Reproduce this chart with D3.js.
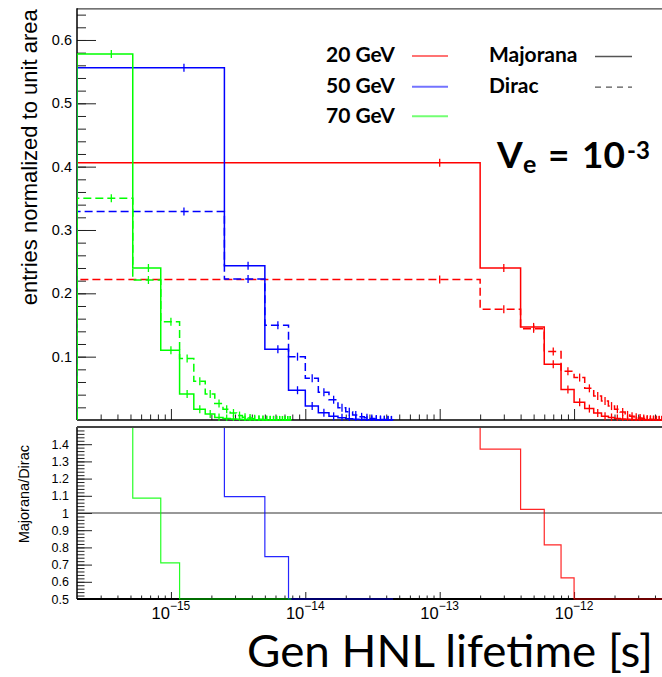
<!DOCTYPE html>
<html><head><meta charset="utf-8">
<script src="https://cdn.jsdelivr.net/npm/d3@7/dist/d3.min.js"></script>
<style>html,body{margin:0;padding:0;background:#fff;} svg{display:block;}</style>
</head><body><svg id="c" width="662" height="677"></svg>
<script>
// ---------------- data ----------------
const massLabels = ["20 GeV", "50 GeV", "70 GeV"];
const massColors = ["#ff0000", "#0000ff", "#00ff00"];
const typeLabels = ["Majorana", "Dirac"];
// histogram binning per mass (lifetime in s)
const binStart = [0, 0, 2e-16];
const binWidth = [2e-13, 2.5e-15, 3.2e-16];

const red20Majorana = [0.406, 0.240, 0.147, 0.088, 0.048, 0.028, 0.018, 0.011, 0.006, 0.004, 0.0025, 0.0016, 0.001, 0.0007, 0.0005, 0.0003, 0.0002, 0.00015, 0.0001, 0.00007, 0.00005, 0.00003, 0.00002, 0.00001, 0.00001];
const red20Dirac    = [0.222, 0.175, 0.144, 0.108, 0.077, 0.067, 0.050, 0.038, 0.030, 0.022, 0.017, 0.0126, 0.008, 0.006, 0.0045, 0.0032, 0.0024, 0.0017, 0.0012, 0.0009, 0.0006, 0.0004, 0.0003, 0.0002, 0.0001];
const blue50Majorana = [0.556, 0.2437, 0.1116, 0.047, 0.022, 0.0116, 0.0058, 0.0035, 0.002, 0.0012, 0.0008, 0.0005, 0.0003, 0.0002, 0.00015, 0.0001, 0.00005, 0.00003];
const blue50Dirac    = [0.329, 0.2226, 0.1495, 0.100, 0.0658, 0.044, 0.032, 0.0195, 0.013, 0.008, 0.005, 0.0035, 0.0022, 0.0014, 0.0009, 0.0006, 0.0004, 0.0002];
const green70Majorana = [0.578, 0.240, 0.110, 0.041, 0.017, 0.0095, 0.004, 0.0025, 0.0015, 0.001, 0.0007, 0.0005, 0.0003, 0.0002, 0.0002, 0.0001, 0.0001, 0.0001, 0.00005, 0.00005, 0.00003, 0.00002, 0.00001, 0.00001];
const green70Dirac    = [0.350, 0.221, 0.155, 0.097, 0.061, 0.041, 0.026, 0.017, 0.011, 0.007, 0.0045, 0.003, 0.002, 0.0013, 0.0009, 0.0006, 0.0004, 0.0003, 0.0002, 0.00015, 0.0001, 0.00007, 0.00005, 0.00003];

const majoranaSeries = [red20Majorana, blue50Majorana, green70Majorana];
const diracSeries = [red20Dirac, blue50Dirac, green70Dirac];

const xDomain = [2e-16, 5e-12];
const xDecadeExps = [-15, -14, -13, -12];
const yTopDomain = [0, 0.65];
const yTopMajorTicks = [0.1, 0.2, 0.3, 0.4, 0.5, 0.6];
const yRatioDomain = [0.5, 1.5];
const yRatioMajorTicks = [0.5, 0.6, 0.7, 0.8, 0.9, 1.0, 1.1, 1.2, 1.3, 1.4];
const ratioLabelText = ["0.5","0.6","0.7","0.8","0.9","1","1.1","1.2","1.3","1.4"];

// ---------------- layout ----------------
const L = 77, R = 668;
const topT = 8.3, topB = 420;
const botT = 427, botB = 599;
const svg = d3.select("#c");
const FONT = "'Liberation Sans', Arial, Helvetica, sans-serif";
const CAL = "Lato, 'Open Sans', sans-serif";

const x = d3.scaleLog().domain(xDomain).range([L, R]);
const yTop = d3.scaleLinear().domain(yTopDomain).range([topB, topT]);
const yBot = d3.scaleLinear().domain(yRatioDomain).range([botB, botT]);

const defs = svg.append("defs");
defs.append("clipPath").attr("id", "clipTop").append("rect").attr("x", L).attr("y", topT).attr("width", R - L).attr("height", topB - topT + 1);
defs.append("clipPath").attr("id", "clipBot").append("rect").attr("x", L).attr("y", botT - 1).attr("width", R - L).attr("height", botB - botT + 2);

// minor tick values on the log axis
const minorX = [];
for (let e = -16; e <= -12; e++) for (let m = 2; m <= 9; m++) {
  const v = m * Math.pow(10, e);
  if (v > xDomain[0] && v < xDomain[1]) minorX.push(v);
}
const majorX = xDecadeExps.map(e => Math.pow(10, e));

function styleAxis(g) {
  g.select(".domain").remove();
  g.selectAll(".tick line").attr("stroke", "#222").attr("stroke-width", 1);
  g.selectAll(".tick text").attr("font-family", FONT).attr("fill", "#000");
}

// ---------------- top panel axes ----------------
const yTopMinor = d3.range(1, 33).map(i => +(i * 0.02).toFixed(2)).filter(v => v < 0.65);
svg.append("g").attr("transform", `translate(${L},0)`)
  .call(d3.axisLeft(yTop).tickValues(yTopMinor).tickSize(-9).tickFormat(""))
  .call(styleAxis);
svg.append("g").attr("transform", `translate(${L},0)`)
  .call(d3.axisLeft(yTop).tickValues(yTopMajorTicks).tickSize(-19).tickPadding(5).tickFormat(d3.format(".1f")))
  .call(styleAxis)
  .call(g => g.selectAll(".tick text").attr("font-size", 14.5));

svg.append("g").attr("transform", `translate(0,${topB})`)
  .call(d3.axisBottom(x).tickValues(minorX).tickSize(-5.5).tickFormat(""))
  .call(styleAxis);
svg.append("g").attr("transform", `translate(0,${topB})`)
  .call(d3.axisBottom(x).tickValues(majorX).tickSize(-11).tickFormat(""))
  .call(styleAxis);

// ---------------- bottom panel axes ----------------
const yBotMinor = d3.range(0, 51).map(i => +(0.5 + i * 0.02).toFixed(2)).filter(v => v < 1.5);
svg.append("g").attr("transform", `translate(${L},0)`)
  .call(d3.axisLeft(yBot).tickValues(yBotMinor).tickSize(-7.5).tickFormat(""))
  .call(styleAxis);
svg.append("g").attr("transform", `translate(${L},0)`)
  .call(d3.axisLeft(yBot).tickValues(yRatioMajorTicks).tickSize(-15).tickPadding(8)
        .tickFormat((d, i) => ratioLabelText[i]))
  .call(styleAxis)
  .call(g => g.selectAll(".tick text").attr("font-size", 12.5));

svg.append("g").attr("transform", `translate(0,${botB})`)
  .call(d3.axisBottom(x).tickValues(minorX).tickSize(-3.5).tickFormat(""))
  .call(styleAxis);
svg.append("g").attr("transform", `translate(0,${botB})`)
  .call(d3.axisBottom(x).tickValues(majorX).tickSize(-7).tickFormat(""))
  .call(styleAxis);

// x tick labels 10^n
xDecadeExps.forEach(e => {
  const t = svg.append("text").attr("x", x(Math.pow(10, e))).attr("y", 618.5)
    .attr("text-anchor", "middle").attr("font-family", FONT).attr("font-size", 16.5).attr("fill", "#000");
  t.append("tspan").text("10");
  t.append("tspan").attr("dy", -8.5).attr("font-size", 12).text("\u2212" + Math.abs(e));
});

// frames drawn beneath the histograms
svg.append("line").attr("x1", L).attr("x2", R).attr("y1", topT + 0.5).attr("y2", topT + 0.5).attr("stroke", "#444").attr("stroke-width", 1.2);
svg.append("line").attr("x1", L).attr("x2", R).attr("y1", topB).attr("y2", topB).attr("stroke", "#000").attr("stroke-width", 1.5);
svg.append("line").attr("x1", L).attr("x2", L).attr("y1", topT).attr("y2", topB).attr("stroke", "#000").attr("stroke-width", 1.5);
svg.append("line").attr("x1", L).attr("x2", R).attr("y1", botB).attr("y2", botB).attr("stroke", "#000").attr("stroke-width", 1.8);
svg.append("line").attr("x1", L).attr("x2", L).attr("y1", botT).attr("y2", botB).attr("stroke", "#000").attr("stroke-width", 1.5);
// ratio = 1 reference line
svg.append("line").attr("x1", L).attr("x2", R).attr("y1", yBot(1)).attr("y2", yBot(1)).attr("stroke", "#333").attr("stroke-width", 1.2);

// ---------------- histograms ----------------
const clampX = v => Math.max(v, xDomain[0]);
const line = d3.line();

function stepPoints(start, w, vals, yS, clampY, fromBaseline) {
  const pts = [];
  const x0 = x(clampX(start));
  if (fromBaseline) pts.push([x0, yS(0)]);
  vals.forEach((v, i) => {
    const lo = start + i * w, hi = lo + w;
    const vv = clampY ? Math.max(yS.domain()[0], Math.min(yS.domain()[1], v)) : v;
    pts.push([x(clampX(lo)), yS(vv)]);
    pts.push([x(clampX(hi)), yS(vv)]);
  });
  if (fromBaseline) pts.push([x(clampX(start + vals.length * w)), yS(0)]);
  return pts;
}

const gTop = svg.append("g").attr("clip-path", "url(#clipTop)");
massLabels.forEach((m, k) => {
  [diracSeries[k], majoranaSeries[k]].forEach((vals, j) => {
    const dashed = j === 0;
    gTop.append("path")
      .attr("d", line(stepPoints(binStart[k], binWidth[k], vals, yTop, false, true)))
      .attr("fill", "none").attr("stroke", massColors[k]).attr("stroke-width", 1.5)
      .attr("stroke-dasharray", dashed ? "8,4" : null);
    // error bar markers at bin centres
    vals.forEach((v, i) => {
      const c = binStart[k] + (i + 0.5) * binWidth[k];
      if (c < xDomain[0] || c > xDomain[1]) return;
      gTop.append("line").attr("x1", x(c)).attr("x2", x(c))
        .attr("y1", yTop(v) - 4).attr("y2", yTop(v) + 4)
        .attr("stroke", massColors[k]).attr("stroke-width", 1.3);
    });
  });
});

// ratio panel
const gBot = svg.append("g").attr("clip-path", "url(#clipBot)");
massLabels.forEach((m, k) => {
  const ratio = majoranaSeries[k].map((v, i) => diracSeries[k][i] > 0 ? v / diracSeries[k][i] : 0);
  gBot.append("path")
    .attr("d", line(stepPoints(binStart[k], binWidth[k], ratio, yBot, true, false)))
    .attr("fill", "none").attr("stroke", massColors[k]).attr("stroke-width", 1.2).attr("stroke-opacity", 0.85);
});
// ratio panel top frame drawn over the clamped lines
svg.append("line").attr("x1", L).attr("x2", R).attr("y1", botT).attr("y2", botT).attr("stroke", "#444").attr("stroke-width", 2);

// ---------------- titles ----------------
svg.append("text").attr("transform", `translate(37,${topT + 1}) rotate(-90)`)
  .attr("text-anchor", "end").attr("font-family", FONT).attr("font-size", 22).attr("fill", "#000")
  .text("entries normalized to unit area");
svg.append("text").attr("transform", `translate(29,445) rotate(-90)`)
  .attr("text-anchor", "end").attr("font-family", FONT).attr("font-size", 14.5).attr("fill", "#000")
  .text("Majorana/Dirac");
svg.append("text").attr("x", 247).attr("y", 667).attr("font-family", CAL).attr("font-size", 44)
  .attr("textLength", 406).attr("lengthAdjust", "spacingAndGlyphs").attr("fill", "#000")
  .text("Gen HNL lifetime [s]");

// ---------------- legend ----------------
const legY = [56, 86.7, 116.3];
massLabels.forEach((m, k) => {
  svg.append("text").attr("x", 326).attr("y", legY[k] + 6.3).attr("font-family", CAL)
    .attr("font-weight", "bold").attr("font-size", 21).attr("fill", "#000").text(m);
  svg.append("line").attr("x1", 412).attr("x2", 448).attr("y1", legY[k]).attr("y2", legY[k])
    .attr("stroke", massColors[k]).attr("stroke-width", 2).attr("stroke-opacity", 0.55);
});
typeLabels.forEach((t, j) => {
  svg.append("text").attr("x", 489).attr("y", legY[j] + 6.3).attr("font-family", CAL)
    .attr("font-weight", "bold").attr("font-size", 21).attr("fill", "#000").text(t);
  svg.append("line").attr("x1", 595).attr("x2", 632).attr("y1", legY[j] + 0.5).attr("y2", legY[j] + 0.5)
    .attr("stroke", "#555").attr("stroke-width", 1.3)
    .attr("stroke-dasharray", j === 1 ? "6,5" : null);
});

// V_e = 10^-3 annotation
const ann = [
  {t: "V", x: 497, y: 168, s: 37},
  {t: "e", x: 523, y: 173, s: 25},
  {t: "=", x: 548, y: 168, s: 37},
  {t: "10", x: 582, y: 168, s: 37},
  {t: "-3", x: 627, y: 159, s: 24}
];
ann.forEach(a => svg.append("text").attr("x", a.x).attr("y", a.y).attr("font-family", CAL)
  .attr("font-weight", "bold").attr("font-size", a.s).attr("fill", "#000").text(a.t));
</script></body></html>
